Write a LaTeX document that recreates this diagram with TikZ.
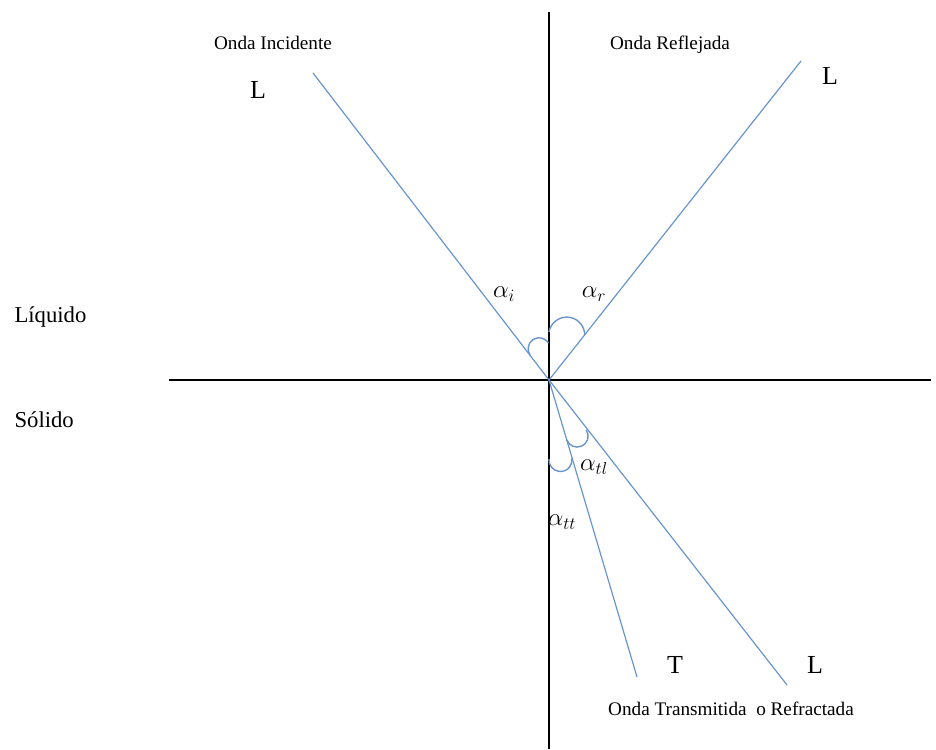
\documentclass[tikz,border=0pt]{standalone}
\usepackage{fontspec}
\setmainfont{Liberation Serif}
\definecolor{ray}{RGB}{105,148,205}
\begin{document}
\begin{tikzpicture}[x=1pt,y=1pt,
  axis/.style={line width=1.2pt,black},
  raystyle/.style={line width=1.2pt,ray},
  anglearc/.style={line width=1.4pt,ray},
  small/.style={font=\fontsize{19.2}{21}\selectfont,anchor=base},
  medium/.style={font=\fontsize{22.7}{25}\selectfont,anchor=base west},
  big/.style={font=\fontsize{26}{28}\selectfont,anchor=base},
  greek/.style={font=\fontsize{23}{25}\selectfont}]
\useasboundingbox (0,0) rectangle (936,749);
% points
\coordinate (O) at (549,369);
\coordinate (vtop) at (549,737);
\coordinate (vbot) at (549,0);
\coordinate (hleft) at (169,369);
\coordinate (hright) at (931,369);
\coordinate (inc) at (313,676);
\coordinate (refl) at (801,688);
\coordinate (trT) at (637,72);
\coordinate (trL) at (787,64);
% axes
\draw[axis] (vtop) -- (vbot);
\draw[axis] (hleft) -- (hright);
% rays
\draw[raystyle] (inc) -- (O);
\draw[raystyle] (O) -- (refl);
\draw[raystyle] (O) -- (trT);
\draw[raystyle] (O) -- (trL);
% angle arcs
\coordinate (a1) at (530,394);
\coordinate (a2) at (549,417);
\coordinate (a3) at (566.8,309);
\coordinate (a4) at (549,290);
\draw[anglearc] (a1) arc[start angle=214, end angle=31, radius=11];
\draw[anglearc] (a2) arc[start angle=170, end angle=0, radius=18];
\draw[anglearc] (a3) arc[start angle=201, end angle=395, radius=11];
\draw[anglearc] (a4) arc[start angle=175, end angle=370, radius=11.5];
% angle labels
\node[greek] (ai) at (504,455) {$\alpha_i$};
\node[greek] (ar) at (594,455) {$\alpha_r$};
\node[greek] (atl) at (594,282) {$\alpha_{tl}$};
\node[greek] (att) at (562,227) {$\alpha_{tt}$};
% texts
\node[small] (oi) at (273,699) {Onda Incidente};
\node[small] (orf) at (670,699) {Onda Reflejada};
\node[small] (ot) at (731,34) {Onda Transmitida\ \ o Refractada};
\node[big] (L1) at (258,650) {L};
\node[big] (L2) at (830,664) {L};
\node[big] (T3) at (675,75) {T};
\node[big] (L3) at (815,75) {L};
\node[medium] (liq) at (11,426) {Líquido};
\node[medium] (sol) at (11,321) {Sólido};
\end{tikzpicture}
\end{document}
